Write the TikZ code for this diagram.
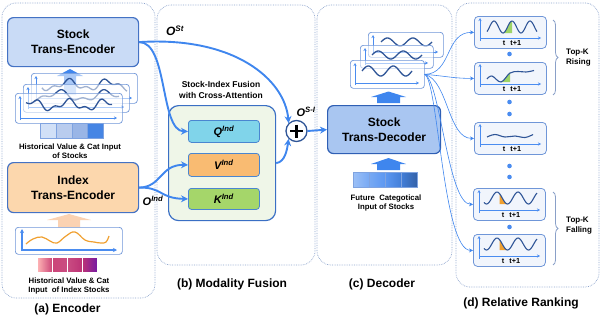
\documentclass[tikz,border=0pt]{standalone}
\usepackage{fontspec}
\setmainfont{Liberation Sans}
\usetikzlibrary{arrows.meta,decorations.pathreplacing}
\definecolor{panelc}{HTML}{8CA3CC}
\definecolor{encb}{HTML}{4472C4}
\definecolor{stockfill}{HTML}{C9DBF6}
\definecolor{indexfill}{HTML}{FCD7AD}
\definecolor{arrowc}{HTML}{3F86EE}
\definecolor{wavec}{HTML}{2F5597}
\definecolor{axisc}{HTML}{4A8CF0}
\definecolor{framec}{HTML}{6F96D8}
\definecolor{fusionfill}{HTML}{EFF6E8}
\definecolor{fusb}{HTML}{3A6FC4}
\definecolor{qfill}{HTML}{80D4EA}
\definecolor{vfill}{HTML}{F9BB72}
\definecolor{kfill}{HTML}{A5D66A}
\definecolor{attb}{HTML}{4A86D0}
\definecolor{decfill}{HTML}{A9C6F1}
\definecolor{decb}{HTML}{2F5FB4}
\definecolor{orangec}{HTML}{F0A030}
\definecolor{greenc}{HTML}{9DD468}
\definecolor{peach}{HTML}{FBD2B2}
\definecolor{cellb}{HTML}{7FA3E0}
\definecolor{rankfill}{HTML}{F1F5FC}
\definecolor{bracec}{HTML}{8AA0C8}
\definecolor{dotc}{HTML}{4A8CF0}

\newcommand{\mkframe}[5]{%
  \node[tsframe, minimum width=#4pt, minimum height=#5pt] (#1) at (#2,#3) {};
  \draw[axis] ({#2+5},{#3+#5-3}) -- ({#2+5},{#3+3});
  \draw[axis] ({#2+5},{#3+#5-5}) -- ({#2+#4-5},{#3+#5-5});
}
\newcommand{\mkwave}[7]{%
  \draw[#1] plot[domain=#2:#3, samples=70, smooth] ({\x},{#4+#5*sin((\x-#2)/(#3-#2)*360*#6+#7)});
}
% irregular wave: style, x0, x1, yc, A, periods, phase
\newcommand{\mkrough}[7]{%
  \draw[#1] plot[domain=#2:#3, samples=80, smooth] ({\x},{#4+#5*(0.7*sin((\x-#2)/(#3-#2)*360*#6+#7)+0.4*sin((\x-#2)/(#3-#2)*360*#6*2.3+#7*1.7))});
}
\newcommand{\mkrank}[3]{%
  \node[rankbox] (#1) at (#2,#3) {};
  \draw[axis] ({#2+6},{#3+25}) -- ({#2+6},{#3+2});
  \draw[axis] ({#2+6},{#3+22}) -- ({#2+67},{#3+22});
  \node[tlab] (#1t) at ({#2+38},{#3+27.5}) {t\hspace{5pt}t+1};
}

\tikzset{
  panel/.style={draw=panelc, densely dotted, line width=0.7pt, rounded corners=14pt},
  lab/.style={font=\fontsize{12}{14}\selectfont\bfseries, inner sep=0pt},
  enc/.style={draw=encb, line width=1.2pt, rounded corners=6pt, align=center, font=\fontsize{12}{15}\selectfont\bfseries, inner sep=0pt, anchor=north west},
  tsframe/.style={draw=framec, line width=0.7pt, rounded corners=3pt, fill=white, fill opacity=0.55, inner sep=0pt, anchor=north west},
  axis/.style={draw=axisc, line width=0.7pt, -{Stealth[length=3pt,width=3pt]}},
  wave/.style={draw=wavec, line width=1.3pt},
  cell/.style={draw=cellb, line width=0.4pt, minimum width=15.75pt, minimum height=15pt, inner sep=0pt, anchor=north west},
  small/.style={font=\fontsize{7.8}{9}\selectfont\bfseries, align=center, inner sep=0pt},
  attn/.style={draw=attb, line width=0.8pt, rounded corners=3pt, minimum width=71pt, minimum height=22pt, inner sep=0pt, anchor=north west, font=\fontsize{11}{13}\selectfont\bfseries\itshape},
  bigarrow/.style={draw=arrowc, line width=1.9pt, -{Stealth[length=7pt,width=7pt]}},
  thinarrow/.style={draw=arrowc, line width=0.6pt, -{Stealth[length=4pt,width=4pt]}},
  olab/.style={font=\fontsize{12}{14}\selectfont\bfseries\itshape, inner sep=0pt},
  rankbox/.style={draw=framec, line width=0.8pt, rounded corners=4pt, fill=rankfill, minimum width=72pt, minimum height=32pt, inner sep=0pt, anchor=north west},
  tlab/.style={font=\fontsize{7.3}{8}\selectfont\bfseries, inner sep=0pt},
  brace/.style={draw=bracec, line width=0.8pt, decorate, decoration={brace, amplitude=5pt}},
  topk/.style={font=\fontsize{8}{10}\selectfont\bfseries, align=left, anchor=west, inner sep=0pt},
}

\begin{document}
\begin{tikzpicture}[x=1pt,y=-1pt]
\useasboundingbox (0,0) rectangle (601,324);

% panels
\draw[panel] (2,3) rectangle (155,298);
\draw[panel] (157,5) rectangle (315,265);
\draw[panel] (317,5) rectangle (452,265);
\draw[panel] (456,3) rectangle (599,287);

\node[lab] (la) at (67.5,309) {(a) Encoder};
\node[lab] (lb) at (232,284) {(b) Modality Fusion};
\node[lab] (lc) at (382,284) {(c) Decoder};
\node[lab] (ld) at (521,303) {(d) Relative Ranking};

% ---------- (a) Encoder ----------
\node[enc, fill=stockfill, minimum width=131pt, minimum height=49pt] (se) at (7,17) {Stock\\Trans-Encoder};
\fill[arrowc] (64,95) -- (64,76) -- (57,76) -- (70,69) -- (83,76) -- (76,76) -- (76,95) -- cycle;
\mkframe{sfa}{31}{73}{106}{30}
\mkrough{wave}{42}{127}{85}{6}{2.2}{20}
\mkframe{sfb}{23}{84}{106}{28}
\mkrough{wave}{34}{119}{96}{6}{1.8}{80}
\mkframe{sfc}{15}{93}{107}{30}
\mkrough{wave}{26}{112}{105}{6}{2.4}{200}
\node[cell, fill=white!15!stockfill] (sc1) at (40,123) {};
\node[cell, fill=cellb!55] (sc2) at (55.75,123) {};
\node[cell, fill=cellb!80] (sc3) at (71.5,123) {};
\node[cell, fill=axisc!95!black] (sc4) at (87.25,123) {};
\node[small] (stxt) at (70,151) {Historical Value \& Cat Input\\of Stocks};

\node[enc, fill=indexfill, minimum width=131pt, minimum height=50pt] (ie) at (7,162) {Index\\Trans-Encoder};
\fill[peach] (58,228) -- (58,220) -- (47,220) -- (69,214) -- (91,220) -- (80,220) -- (80,228) -- cycle;
\node[tsframe, fill opacity=1, minimum width=107pt, minimum height=27pt] (ifr) at (15,227) {};
\draw[draw=axisc, line width=1.2pt, -{Stealth[length=4pt,width=4pt]}] (22,251) -- (22,229);
\draw[draw=axisc, line width=1.2pt, -{Stealth[length=4pt,width=4pt]}] (22,250) -- (117,250);
\draw[orangec, line width=1.2pt] plot[smooth, tension=0.7] coordinates {(26,244) (33,239) (42,237) (50,241) (57,243) (66,236) (75,232) (85,240) (94,242) (101,243) (106,242) (109,236)};
\node[cell, minimum width=15pt, left color=pink!70!red!60, right color=pink!60!red!60!violet, draw=white] (ic1) at (37,257) {};
\node[cell, minimum width=15pt, left color=pink!60!red!60!violet, right color=red!40!violet!70, draw=white] (ic2) at (52,257) {};
\node[cell, minimum width=15pt, left color=red!40!violet!70, right color=violet!65!red!80, draw=white] (ic3) at (67,257) {};
\node[cell, minimum width=15pt, left color=violet!65!red!80, right color=violet!80!blue!90, draw=white] (ic4) at (82,257) {};
\node[small] (itxt) at (69,286) {Historical Value \& Cat\\Input\ \ of Index Stocks};

% ---------- (b) Modality fusion ----------
\node[olab] (ost) at (175,31) {O\textsuperscript{St}};
\node[font=\fontsize{8.5}{11}\selectfont\bfseries, align=center, inner sep=0pt] (fust) at (221,90) {Stock-Index Fusion\\with Cross-Attention};
\node[draw=fusb, line width=1.2pt, rounded corners=10pt, fill=fusionfill, minimum width=107pt, minimum height=115pt, anchor=north west] (fus) at (168,105) {};
\node[attn, fill=qfill] (q) at (188,120) {Q\textsuperscript{Ind}};
\node[attn, fill=vfill, minimum height=23pt] (v) at (188,153) {V\textsuperscript{Ind}};
\node[attn, fill=kfill, minimum height=21pt] (k) at (188,188) {K\textsuperscript{Ind}};
\node[draw=wavec, line width=1.3pt, circle, fill=white, minimum size=21pt, inner sep=0pt] (plus) at (296.5,131) {};
\draw[line width=2.4pt] (plus.center) ++(-6.5,0) -- ++(13,0);
\draw[line width=2.4pt] (plus.center) ++(0,-6.5) -- ++(0,13);
\node[olab, font=\fontsize{11}{13}\selectfont\bfseries\itshape] (osi) at (306,112) {O\textsuperscript{S-I}};
\node[olab, font=\fontsize{11}{13}\selectfont\bfseries\itshape] (oind) at (153,201) {O\textsuperscript{Ind}};

\draw[bigarrow] (se.east) .. controls (235,36) and (285,80) .. (plus.north west);
\draw[bigarrow] (se.east) .. controls (168,42) and (160,131) .. (q.west);
\draw[bigarrow] (ie.east) .. controls (162,187) and (160,164.5) .. (v.west);
\draw[bigarrow] (ie.east) .. controls (162,187) and (160,198.5) .. (k.west);
\draw[bigarrow] (fus.east) .. controls (285,162) and (287,150) .. (plus.south west);

% ---------- (c) Decoder ----------
\mkframe{dfa}{368}{32}{75}{25}
\mkwave{wave}{381}{432}{42}{4}{2}{180}
\mkframe{dfb}{360}{45}{73}{23}
\mkwave{wave}{372}{422}{55}{4}{2}{180}
\mkframe{dfc}{350}{60}{74}{28}
\mkwave{wave}{362}{412}{71}{5}{2}{180}
\fill[arrowc] (377,103) -- (377,97) -- (371,97) -- (388.5,91.5) -- (406,97) -- (400,97) -- (400,103) -- cycle;
\node[enc, fill=decfill, draw=decb, minimum width=113pt, minimum height=48pt] (dec) at (327,105) {Stock\\Trans-Decoder};
\fill[arrowc] (377,170) -- (377,164) -- (371,164) -- (388.5,158) -- (406,164) -- (400,164) -- (400,170) -- cycle;
\node[cell, minimum width=16pt, left color=axisc!55, right color=axisc!75, draw=cellb] (dc1) at (353,172) {};
\node[cell, minimum width=16pt, left color=axisc!75, right color=axisc!90, draw=cellb] (dc2) at (369,172) {};
\node[cell, minimum width=16pt, left color=axisc!90, right color=axisc!90!black, draw=cellb] (dc3) at (385,172) {};
\node[cell, minimum width=16pt, left color=axisc!90!black, right color=axisc!70!black, draw=cellb] (dc4) at (401,172) {};
\node[small] (dtxt) at (386,203) {Future\ \ Categotical\\Input of Stocks};
\draw[bigarrow] (plus.east) -- (dec.west);

% ---------- (d) Relative ranking ----------
\mkrank{r1}{474}{16}
\fill[greenc] plot[domain=503:512, samples=15] ({\x},{27+6*cos((\x-503)/18*360)}) -- (512,33) -- cycle;
\draw[wave, line width=1.1pt] plot[domain=487:537, samples=60, smooth] ({\x},{27+6*cos((\x-503)/18*360)});

\mkrank{r2}{474}{62}
\fill[greenc] (501,82) .. controls (505,82) and (507,74) .. (510,72.5) -- (510,82) -- cycle;
\draw[wave, line width=1.1pt] plot[smooth, tension=0.6] coordinates {(487,79) (492,76) (501,82) (510,73) (518,71.5) (526,72) (534,70.5)};

\mkrank{r3}{474}{122}
\draw[wave, line width=1.1pt] plot[smooth, tension=0.6] coordinates {(487,137) (495,134.5) (505,137) (515,136) (525,137.5) (533,134.5)};

\mkrank{r4}{473}{188}
\fill[orangec] plot[domain=499.5:507.5, samples=15] ({\x},{198-6*cos((\x-497)/21*360)}) -- (499.5,204) -- cycle;
\draw[wave, line width=1.1pt] plot[domain=484:537, samples=60, smooth] ({\x},{198-6*cos((\x-497)/21*360)});

\mkrank{r5}{473}{234}
\fill[orangec] plot[domain=499.5:507.5, samples=15] ({\x},{244-6*cos((\x-497)/21*360)}) -- (499.5,250) -- cycle;
\draw[wave, line width=1.1pt] plot[domain=484:537, samples=60, smooth] ({\x},{244-6*cos((\x-497)/21*360)});

\foreach \yy in {54,102,114,166,177,227}
  \fill[dotc] (509.5,\yy) circle (2.3pt);

\draw[brace] (553,20) -- (553,95);
\draw[brace] (553,192) -- (553,265);
\node[topk] (tkr) at (566,58) {Top-K\\Rising};
\node[topk] (tkf) at (566,225.5) {Top-K\\Falling};

\draw[thinarrow] (dfc.east) .. controls (452,74) and (445,32) .. (r1.west);
\draw[thinarrow] (dfc.east) .. controls (445,76) and (455,78.5) .. (r2.west);
\draw[thinarrow] (dfc.east) .. controls (448,80) and (448,138.5) .. (r3.west);
\draw[thinarrow] (dfc.east) .. controls (440,80) and (448,204) .. (r4.west);
\draw[thinarrow] (dfc.east) .. controls (438,80) and (443,250.5) .. (r5.west);
\end{tikzpicture}
\end{document}
